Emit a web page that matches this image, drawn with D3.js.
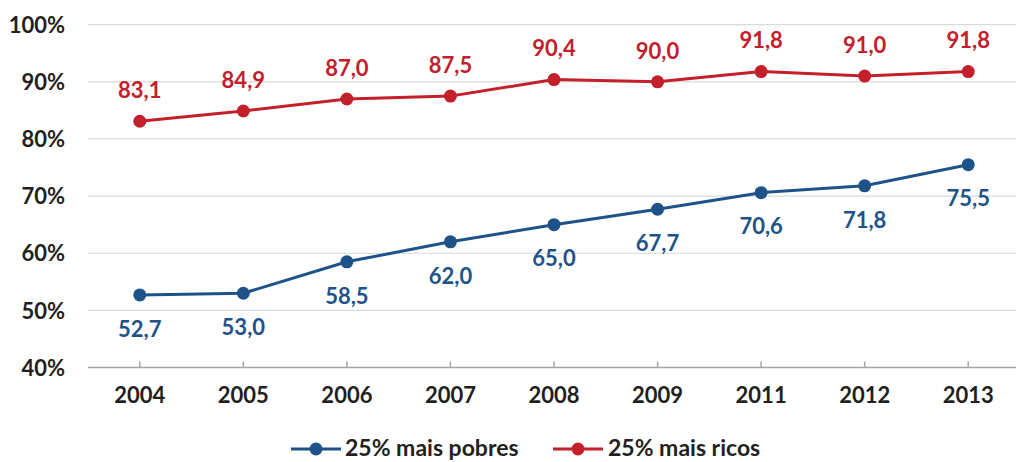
<!DOCTYPE html>
<html><head><meta charset="utf-8">
<script src="https://cdn.jsdelivr.net/npm/d3@7"></script>
<style>body{margin:0;background:#fff}svg{display:block}text{font-family:Lato,"Open Sans",sans-serif;font-weight:700}</style>
</head><body>
<svg id="c" width="1016" height="462"></svg>
<script>
const years = ["2004","2005","2006","2007","2008","2009","2011","2012","2013"];
const pobres = [52.7,53.0,58.5,62.0,65.0,67.7,70.6,71.8,75.5];
const ricos = [83.1,84.9,87.0,87.5,90.4,90.0,91.8,91.0,91.8];
const yTicks = [40,50,60,70,80,90,100];
const seriesNames = ["25% mais pobres","25% mais ricos"];
const colors = ["#1D5389","#C3202B"];

const svg = d3.select("#c");
const x = d3.scaleBand().domain(years).range([88,1020]);
const y = d3.scaleLinear().domain([40,100]).range([367.5,24.7]);
const fmt = v => v.toFixed(1).replace(".",",");
const FS = 22;

// gridlines
svg.append("g").selectAll("line").data(yTicks.filter(t=>t>40)).join("line")
  .attr("x1",88).attr("x2",1016).attr("y1",d=>y(d)).attr("y2",d=>y(d))
  .attr("stroke","#d9d9d9").attr("stroke-width",1.2);

// y axis labels
const ya = svg.append("g").attr("transform","translate(65,0)")
  .call(d3.axisLeft(y).tickValues(yTicks).tickFormat(d=>d+"%").tickSize(0).tickPadding(0));
ya.select(".domain").remove();
ya.selectAll("text").attr("font-size",FS).attr("fill","#231F20").attr("font-family","Lato").attr("font-weight",700).attr("dy","0.35em");

// x axis
const xa = svg.append("g").attr("transform",`translate(0,${y(40)})`)
  .call(d3.axisBottom(x).tickSizeInner(-6).tickSizeOuter(0).tickPadding(20));
xa.select(".domain").attr("stroke","#a6a6a6").attr("stroke-width",1.5).attr("d","M88,0H1016");
xa.selectAll(".tick line").attr("stroke","#a6a6a6").attr("stroke-width",1.5);
xa.selectAll("text").attr("font-size",FS).attr("fill","#231F20").attr("font-family","Lato").attr("font-weight",700);

const cx = d => x(d)+x.bandwidth()/2;
const data = [pobres, ricos];
data.forEach((vals,i)=>{
  const pts = years.map((yr,j)=>({yr,v:vals[j]}));
  svg.append("path").datum(pts)
    .attr("d",d3.line().x(d=>cx(d.yr)).y(d=>y(d.v)))
    .attr("fill","none").attr("stroke",colors[i]).attr("stroke-width",3);
  svg.append("g").selectAll("circle").data(pts).join("circle")
    .attr("cx",d=>cx(d.yr)).attr("cy",d=>y(d.v)).attr("r",6.5).attr("fill",colors[i]);
  svg.append("g").selectAll("text").data(pts).join("text")
    .attr("x",d=>cx(d.yr)).attr("y",d=>y(d.v)+(i===0?34:-31))
    .attr("dy","0.35em").attr("text-anchor","middle")
    .attr("font-size",FS).attr("fill",colors[i]).text(d=>fmt(d.v));
});

// legend
const LY = 449;
const leg = [{x:291,tx:345},{x:553,tx:608}];
leg.forEach((l,i)=>{
  const g = svg.append("g");
  g.append("line").attr("x1",l.x).attr("x2",l.x+50).attr("y1",LY).attr("y2",LY)
    .attr("stroke",colors[i]).attr("stroke-width",3);
  g.append("circle").attr("cx",l.x+25).attr("cy",LY).attr("r",6.5).attr("fill",colors[i]);
  g.append("text").attr("x",l.tx).attr("y",LY).attr("dy","0.32em")
    .attr("font-size",FS+1).attr("fill","#231F20").text(seriesNames[i]);
});
</script>
</body></html>
